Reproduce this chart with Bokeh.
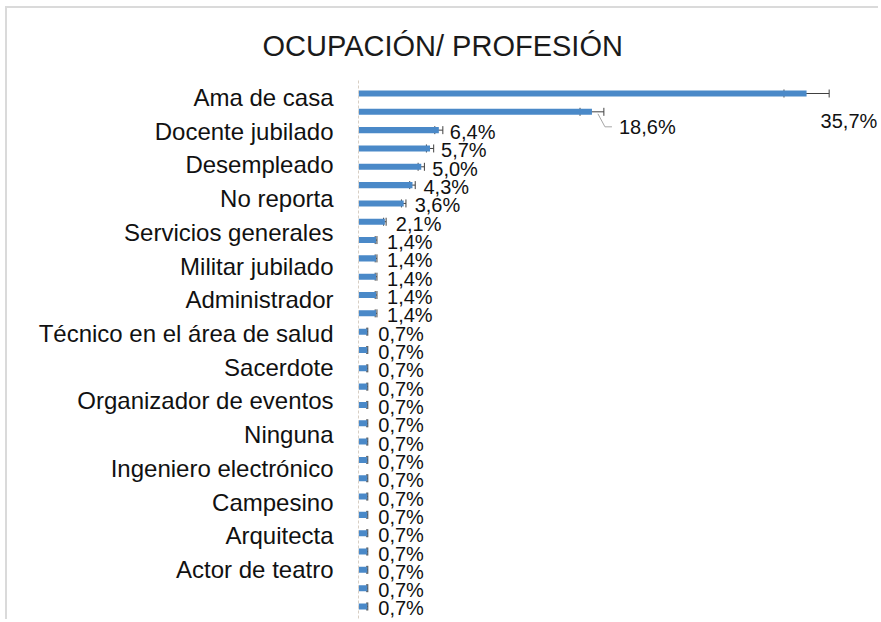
from bokeh.plotting import figure
from bokeh.models import Range1d, FixedTicker, Whisker, TeeHead, ColumnDataSource
from bokeh.core.properties import value
from bokeh.embed import file_html
from bokeh.resources import INLINE

# ---- data ----
shown_labels = ["Ama de casa", "Docente jubilado", "Desempleado", "No reporta",
                "Servicios generales", "Militar jubilado", "Administrador",
                "Técnico en el área de salud", "Sacerdote", "Organizador de eventos",
                "Ninguna", "Ingeniero electrónico", "Campesino", "Arquitecta",
                "Actor de teatro"]
percent = [35.7, 18.6, 6.4, 5.7, 5.0, 4.3, 3.6, 2.1,
           1.4, 1.4, 1.4, 1.4, 1.4,
           0.7, 0.7, 0.7, 0.7, 0.7, 0.7, 0.7, 0.7,
           0.7, 0.7, 0.7, 0.7, 0.7, 0.7, 0.7, 0.7]
error = [1.8, 0.95, 0.32, 0.29, 0.25, 0.22, 0.18, 0.1,
         0.07, 0.07, 0.07, 0.07, 0.07,
         0.04, 0.04, 0.04, 0.04, 0.04, 0.04, 0.04, 0.04,
         0.04, 0.04, 0.04, 0.04, 0.04, 0.04, 0.04, 0.04]
title_text = "OCUPACIÓN/ PROFESIÓN"

# ---- layout constants ----
FONT = "Liberation Sans"
W, H = 873, 613
LEFT, TOP = 351, 72
X_END = 41.59
Y_TOP, Y_BOT = 0.2904, 29.82
PX_X = X_END / (W - LEFT)          # data units per pixel (x)
PX_Y = (Y_BOT - Y_TOP) / (H - TOP)  # data units per pixel (y)

n = len(percent)
ypos = list(range(1, n + 1))
labels = [f"{v:.1f}".replace(".", ",") + "%" for v in percent]
dx = [14, 27] + [11] * (n - 2)
dy = [27, 15] + [2] * (n - 2)

tick_pos = [round(1.218 + 1.840 * i, 3) for i in range(len(shown_labels))]

src = ColumnDataSource(dict(y=ypos, v=percent, lo=[a - b for a, b in zip(percent, error)],
                            hi=[a + b for a, b in zip(percent, error)],
                            lab=labels, dx=dx, dy=dy))

p = figure(width=W, height=H, output_backend="svg", toolbar_location=None,
           x_range=Range1d(0, X_END), y_range=Range1d(Y_BOT, Y_TOP),
           x_axis_location=None,
           min_border_left=LEFT, min_border_right=0, min_border_top=TOP, min_border_bottom=0,
           background_fill_color="white", border_fill_color="white")
p.styles = {"margin-left": "5px", "margin-top": "6px",
            "border-top": "2px solid #dadada", "border-left": "2px solid #dadada"}
p.outline_line_color = None
p.xgrid.visible = False
p.ygrid.visible = False

p.title.text = title_text
p.title.text_font = FONT
p.title.text_font_size = "29px"
p.title.text_font_style = "normal"
p.title.text_color = "#1a1a1a"
p.title.align = "left"
p.title.offset = -96
p.title.standoff = 38

ax = p.yaxis[0]
ax.ticker = FixedTicker(ticks=tick_pos)
ax.major_label_overrides = {t: s for t, s in zip(tick_pos, shown_labels)}
ax.major_label_text_font = FONT
ax.major_label_text_font_size = "24px"
ax.major_label_text_color = "#111111"
ax.major_tick_out = 0
ax.major_tick_in = 0
ax.minor_tick_out = 0
ax.minor_tick_in = 0
ax.major_label_standoff = 25
ax.axis_line_color = "#d8cfc4"
ax.axis_line_dash = "3 2"

p.hbar(y="y", left=0, right="v", height=0.33, source=src,
       fill_color="#4a89c8", line_color=None)

p.add_layout(Whisker(source=src, base="y", lower="lo", upper="hi", dimension="width",
                     line_color="#404040", line_width=1,
                     lower_head=TeeHead(size=8, line_color="#404040", line_width=1),
                     upper_head=TeeHead(size=8, line_color="#404040", line_width=1)))

# leader line for second label
v2, e2, y2 = percent[1], error[1], ypos[1]
p.line(x=[v2 + 6 * PX_X, v2 + 13 * PX_X, v2 + 20 * PX_X],
       y=[y2 + 2 * PX_Y, y2 + 15 * PX_Y, y2 + 15 * PX_Y],
       line_color="#a6a6a6", line_width=1)

p.text(x="v", y="y", text="lab", x_offset="dx", y_offset="dy", source=src,
       text_font=value(FONT), text_font_size="20px", text_color="#111111",
       text_align="left", text_baseline="middle")

open("out.html", "w").write(file_html(p, INLINE))
